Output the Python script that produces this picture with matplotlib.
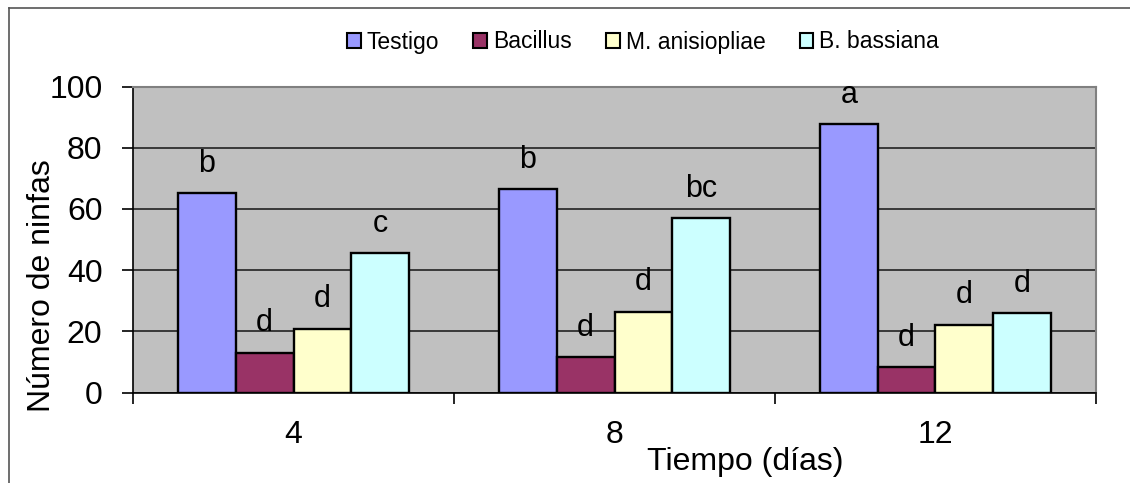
import matplotlib
matplotlib.use("Agg")
import matplotlib.pyplot as plt
from matplotlib.lines import Line2D
from matplotlib.patches import Patch
import numpy as np

plt.rcParams['font.family'] = ['Liberation Sans', 'DejaVu Sans']

days = ["4", "8", "12"]
series_names = ["Testigo", "Bacillus", "M. anisiopliae", "B. bassiana"]
testigo = [65.1, 66.4, 87.6]
bacillus = [13.0, 11.5, 8.2]
anisopliae = [20.8, 26.4, 22.1]
bassiana = [45.5, 56.9, 25.9]
letters_testigo = ["b", "b", "a"]
letters_bacillus = ["d", "d", "d"]
letters_anisopliae = ["d", "d", "d"]
letters_bassiana = ["c", "bc", "d"]

colors = ["#9999FF", "#993366", "#FFFFCC", "#CCFFFF"]
values = [testigo, bacillus, anisopliae, bassiana]
letters = [letters_testigo, letters_bacillus, letters_anisopliae, letters_bassiana]

fig = plt.figure(figsize=(11.3, 4.83), dpi=100)
ax = fig.add_axes([133/1130, 1-392.5/483, (1096-133)/1130, (392.5-86.5)/483])
ax.set_facecolor("#C0C0C0")

x = np.arange(len(days))
w = 0.18
offsets = [-1.5*w, -0.5*w, 0.5*w, 1.5*w]
for vals, col, off, labs in zip(values, colors, offsets, letters):
    ax.bar(x + off, vals, width=w, color=col, edgecolor="black", linewidth=1.7, zorder=3)
    for xi, v, lab in zip(x, vals, labs):
        ax.text(xi + off, v + 7, lab, ha="center", va="baseline", fontsize=22, zorder=4)

ax.set_xlim(-0.5, 2.5)
ax.set_ylim(0, 100)
ax.set_yticks([0, 20, 40, 60, 80, 100])
ax.yaxis.grid(True, color="#222222", linewidth=1.2, zorder=1)
ax.set_axisbelow(True)
ax.tick_params(axis="y", direction="out", length=8, width=1.2, pad=14, labelsize=23)

ax.set_xticks([-0.5, 0.5, 1.5, 2.5])
ax.set_xticklabels([])
ax.set_xticks(x, minor=True)
ax.set_xticklabels(days, minor=True)
ax.tick_params(axis="x", which="major", direction="out", length=8, width=1.2)
ax.tick_params(axis="x", which="minor", length=0, pad=20, labelsize=23)

for s in ["top", "right"]:
    ax.spines[s].set_color("#808080")
    ax.spines[s].set_linewidth(1.5)
for s in ["left", "bottom"]:
    ax.spines[s].set_color("black")
    ax.spines[s].set_linewidth(1.2)

handles = [Patch(facecolor=c, edgecolor="black", linewidth=1.5) for c in colors]
fig.legend(handles, series_names, loc="center", bbox_to_anchor=(643/1130, 1-42/483),
           ncol=4, frameon=False, fontsize=16.5, handlelength=0.6, handleheight=0.6,
           handletextpad=0.25, columnspacing=1.5)

fig.text(42/1130, 1-286/483, "Número de ninfas", rotation=90, ha="center", va="center", fontsize=23)
fig.text(745/1130, 1-462/483, "Tiempo (días)", ha="center", va="center", fontsize=23)

fig.add_artist(Line2D([9/1130, 9/1130], [0, 1-8/483], color="#555555", linewidth=1.2))
fig.add_artist(Line2D([9/1130, 1], [1-8/483, 1-8/483], color="#555555", linewidth=1.2))

fig.savefig("out.png", dpi=100)
